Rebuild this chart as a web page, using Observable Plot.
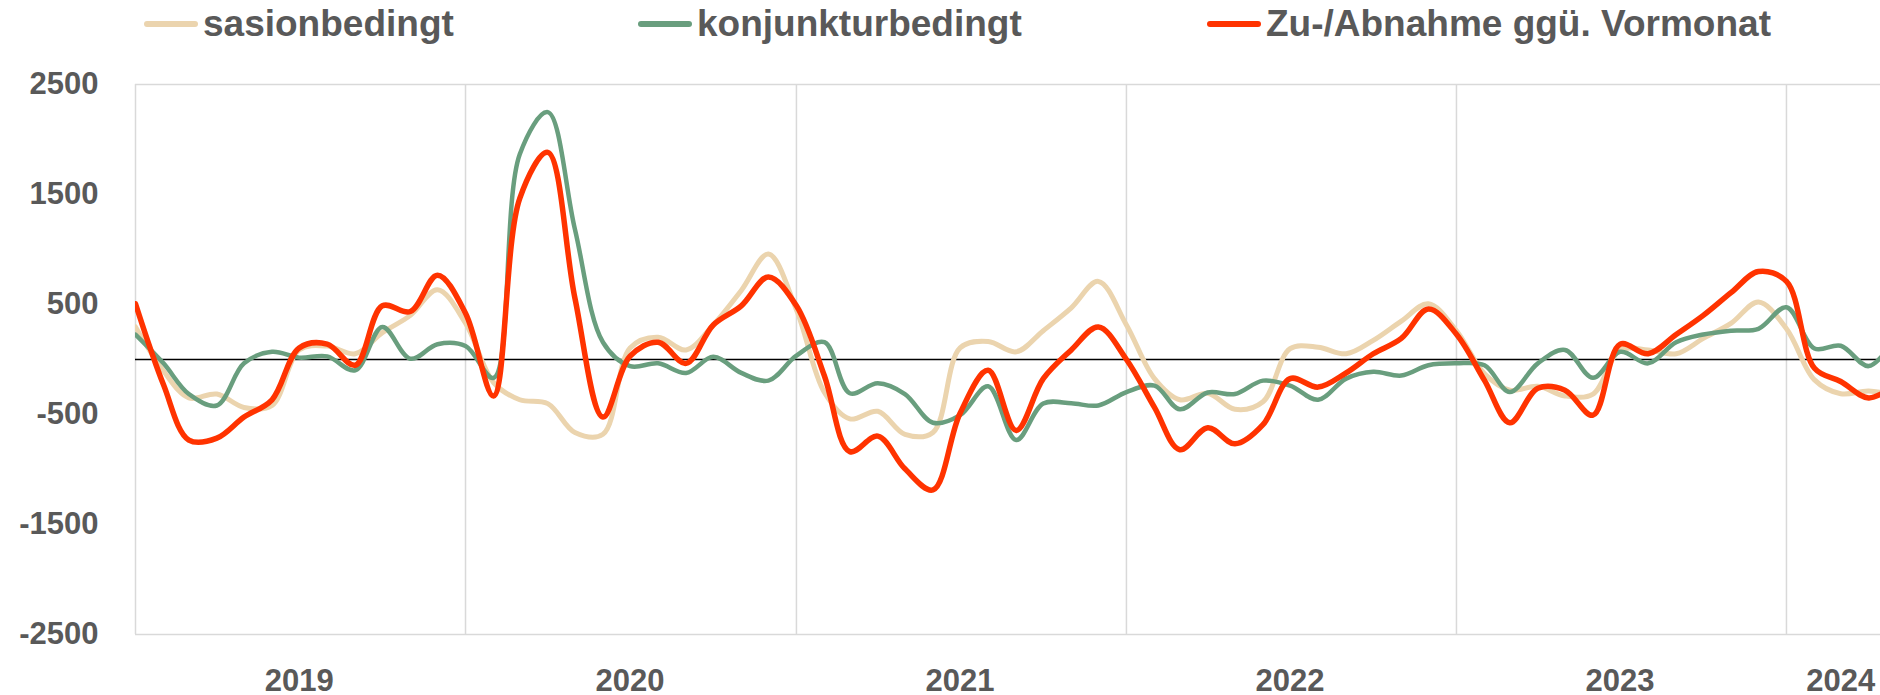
<!DOCTYPE html>
<html><head><meta charset="utf-8">
<script src="https://cdn.jsdelivr.net/npm/d3@7"></script>
<script src="https://cdn.jsdelivr.net/npm/@observablehq/plot@0.6"></script>
<style>
body{margin:0;background:#fff;font-family:"Liberation Sans",Arial,sans-serif;}
#legend{position:relative;height:60px;width:1880px;}
.item{position:absolute;top:3px;height:42px;line-height:42px;display:flex;align-items:center;font-weight:bold;font-size:37px;color:#595959;white-space:nowrap;}
.sw{display:inline-block;width:54px;height:6px;border-radius:3px;margin-right:5px;}
</style></head>
<body>
<div id="legend"></div>
<div id="chart"></div>
<script>
const seriesNames = ["sasionbedingt", "konjunkturbedingt", "Zu-/Abnahme ggü. Vormonat"];
const seriesColors = ["#EBD4AE", "#699E7E", "#FF3300"];
const seriesWidths = [5, 4.5, 5.5];
const legendX = [144, 638, 1207];

// monthly values Jan 2019 .. May 2024
const sasionbedingt = [296,-105,-349,-314,-436,-418,87,122,52,244, 401,635,331,-209,-366,-401,-663,-680,105,202, 87,314,628,959,453,-300,-540,-471,-680,-663, 105,164,70,262,470,710,314,-174,-366,-307, -453,-384,98,112,52,174,349,506,260,-130, -279,-244,-331,-314,87,87,52,192,331,523, 280,-185,-311,-286,-330];
const konjunkturbedingt = [227,-35,-314,-418,-35,70,17,28,-98,296, 7,139,122,-167,1865,2249,1185,157,-60,-35, -122,24,-122,-192,35,157,-307,-216,-314,-575, -506,-244,-732,-401,-398,-418,-296,-237,-453,-300, -314,-192,-237,-366,-174,-112,-146,-52,-35,-52, -296,-35,87,-167,70,-35,157,227,262,279, 475,100,125,-60,200];
const veraenderung = [506,-230,-732,-715,-523,-366,105,140,-52,488, 436,767,420,-331,1465,1883,558,-523,30,157, -35,314,488,750,488,-150,-837,-697,-994,-1186, -488,-98,-645,-174,87,296,0,-436,-820,-620, -767,-593,-174,-251,-122,52,192,460,230,-190, -575,-261,-279,-506,139,52,227,401,610,800, 710,-80,-200,-349,-230];

const yTicks = [-2500, -1500, -500, 500, 1500, 2500];
const yearGrid = [2020, 2021, 2022, 2023, 2024];
const yearLabels = ["2019", "2020", "2021", "2022", "2023", "2024"];
const yearLabelDates = ["2019-07-01", "2020-07-01", "2021-07-01", "2022-07-01", "2023-07-01", "2024-03-01"];

const months = d3.utcMonths(new Date(Date.UTC(2019,0,1)), new Date(Date.UTC(2024,5,1)));
const allSeries = [sasionbedingt, konjunkturbedingt, veraenderung];
const tidy = allSeries.map((vals, s) => vals.map((v, i) => ({date: months[i], value: v, s})));

// legend
const leg = document.getElementById("legend");
seriesNames.forEach((n, i) => {
  const d = document.createElement("div");
  d.className = "item";
  d.style.left = legendX[i] + "px";
  d.innerHTML = `<span class="sw" style="background:${seriesColors[i]}"></span><span>${n}</span>`;
  leg.appendChild(d);
});

const x0 = new Date(Date.UTC(2019,0,1));
const x1 = new Date(Date.UTC(2024,3,14));
const labelDates = yearLabelDates.map(s => new Date(s + "T00:00:00Z"));

const chart = Plot.plot({
  width: 1880, height: 635,
  marginTop: 24, marginBottom: 61, marginLeft: 135, marginRight: 0,
  style: {fontFamily: '"Liberation Sans", Arial, sans-serif', background: "#fff", overflow: "visible"},
  x: {type: "utc", domain: [x0, x1], label: null},
  y: {domain: [-2500, 2500], label: null},
  marks: [
    Plot.gridX(yearGrid.map(y => new Date(Date.UTC(y,0,1))), {stroke: "#D9D9D9", strokeOpacity: 1, strokeWidth: 1.5}),
    Plot.ruleX([x0], {stroke: "#D9D9D9", strokeWidth: 1.5}),
    Plot.ruleY([-2500, 2500], {stroke: "#D9D9D9", strokeWidth: 1.5}),
    Plot.ruleY([0], {stroke: "#000", strokeWidth: 1.5}),
    ...tidy.map((d, s) => Plot.line(d, {x: "date", y: "value", stroke: seriesColors[s], strokeWidth: seriesWidths[s], curve: "catmull-rom", clip: true, strokeLinejoin: "round", strokeLinecap: "round"})),
    Plot.axisY(yTicks, {tickSize: 0, tickPadding: 37, fontSize: 31, fontWeight: "bold", fill: "#595959", tickFormat: d => String(d)}),
    Plot.axisX(labelDates, {tickSize: 0, tickPadding: 34, fontSize: 31, fontWeight: "bold", fill: "#595959", tickFormat: (d, i) => yearLabels[i]})
  ]
});
document.getElementById("chart").appendChild(chart);
</script>
</body></html>
